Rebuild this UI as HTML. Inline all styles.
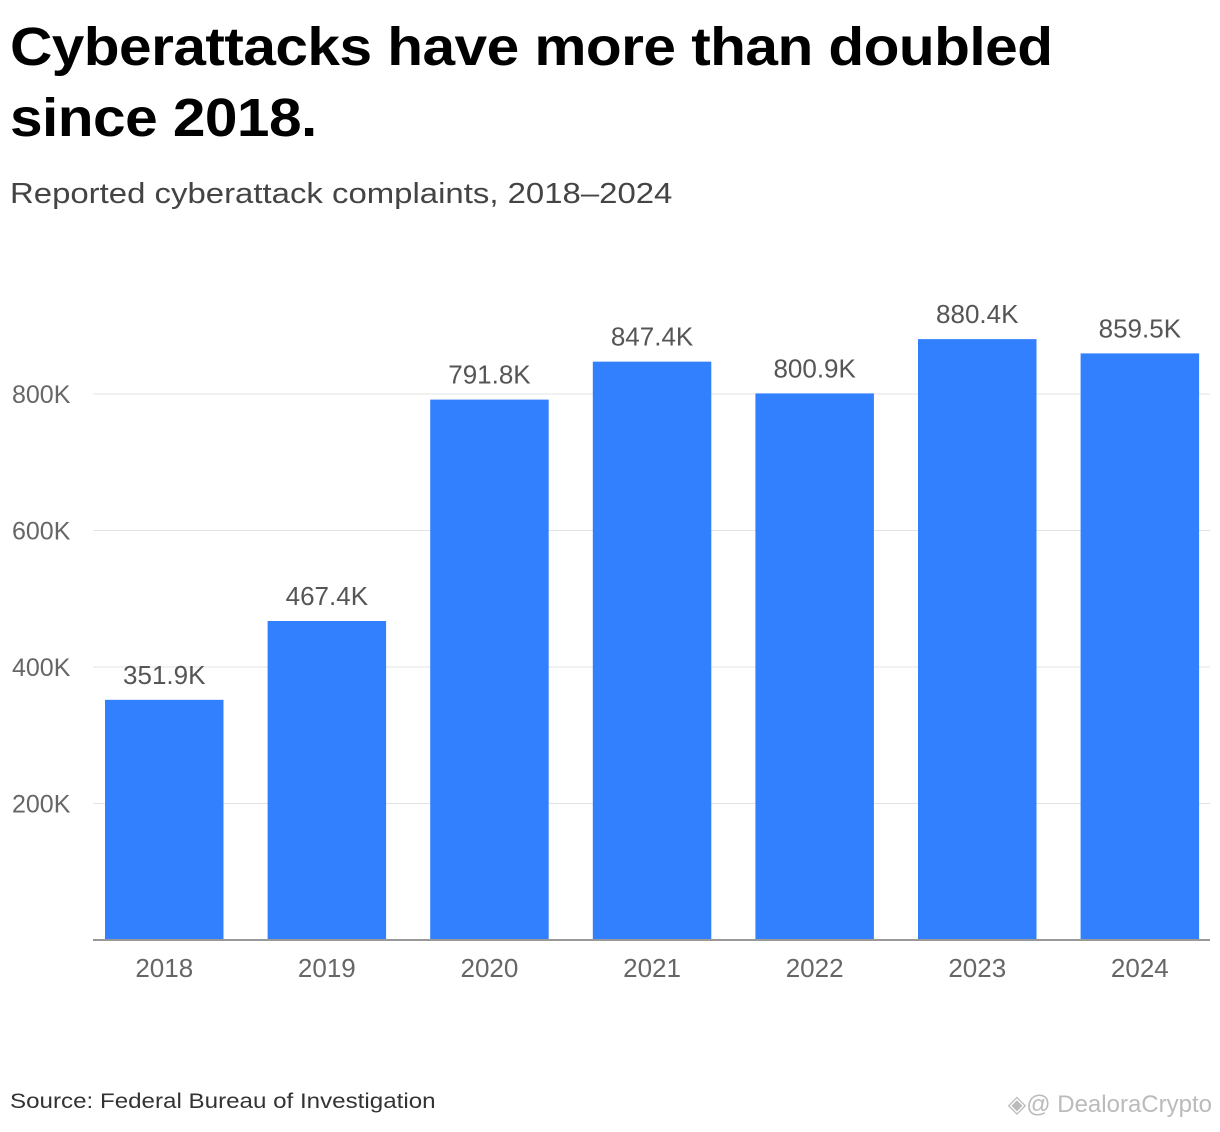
<!DOCTYPE html>
<html><head><meta charset="utf-8"><style>
body{margin:0;width:1220px;height:1132px;background:#fff;font-family:"Liberation Sans",sans-serif;overflow:hidden;position:relative}
.t{position:absolute;left:10px;top:12px;font-size:54px;line-height:71px;color:#000;font-weight:bold;letter-spacing:-0.5px;transform:scaleX(1.085);transform-origin:left top;white-space:nowrap}
.s{position:absolute;left:10px;top:178px;font-size:29px;color:#444;transform:scaleX(1.135);transform-origin:left top;white-space:nowrap}
.src{position:absolute;left:10px;top:1090px;font-size:21px;color:#333;transform:scaleX(1.15);transform-origin:left top;white-space:nowrap}
.wm{position:absolute;right:8px;top:1090px;font-size:24px;color:#bbb}
</style></head><body>
<div class="t">Cyberattacks have more than doubled<br>since 2018.</div>
<div class="s">Reported cyberattack complaints, 2018–2024</div>
<svg id="c" width="1220" height="1132" style="position:absolute;left:0;top:0"></svg>
<div class="src">Source: Federal Bureau of Investigation</div>
<div class="wm">◈@ DealoraCrypto</div>
<script>
const categories=["2018","2019","2020","2021","2022","2023","2024"];
const values=[351.9,467.4,791.8,847.4,800.9,880.4,859.5];
const valueLabels=["351.9K","467.4K","791.8K","847.4K","800.9K","880.4K","859.5K"];
const ticks=[200,400,600,800];
const tickLabels=["200K","400K","600K","800K"];
const svg=document.getElementById('c');const NS='http://www.w3.org/2000/svg';
const y0=940,pxPer=546/800;
const y=v=>y0-v*pxPer;
const x0=105,step=162.6,bw=118.5;
const x=i=>x0+i*step;
function mk(t,a,txt){const e=document.createElementNS(NS,t);for(const k in a)e.setAttribute(k,a[k]);if(txt!=null)e.textContent=txt;svg.appendChild(e);return e;}
ticks.forEach((t,i)=>{
 const g=mk('line',{x1:93,x2:1210,y1:y(t),y2:y(t),stroke:'#e3e3e3','stroke-width':1});
 
 
 const l=mk('text',{x:12,y:y(t)+9,'font-size':25,fill:'#666','font-family':'Liberation Sans, sans-serif'},tickLabels[i]);
 
 
});
categories.forEach((c,i)=>{
 const b=mk('rect',{x:x(i),y:y(values[i]),width:bw,height:y0-y(values[i]),fill:'#3380ff'});
 
 
 const v=mk('text',{x:x(i)+bw/2,y:y(values[i])-16,'font-size':26,fill:'#555','text-anchor':'middle','font-family':'Liberation Sans, sans-serif'},valueLabels[i]);
 
 
 const t=mk('text',{x:x(i)+bw/2,y:977,'font-size':26,fill:'#666','text-anchor':'middle','font-family':'Liberation Sans, sans-serif'},c);
 
 
});
const ax=mk('line',{x1:93,x2:1210,y1:y0,y2:y0,stroke:'#999','stroke-width':2});


</script>
</body></html>
